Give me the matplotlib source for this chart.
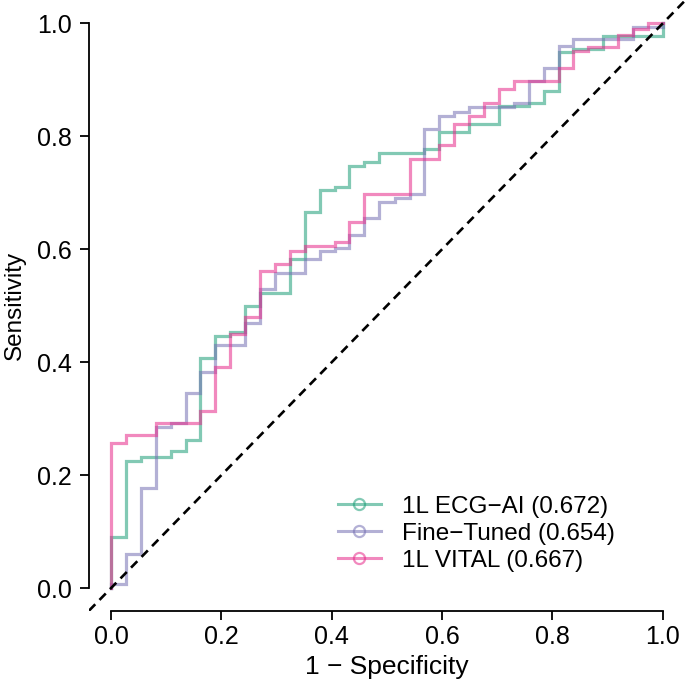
import matplotlib
matplotlib.use("Agg")
import matplotlib.pyplot as plt
from matplotlib.lines import Line2D

plt.rcParams["font.family"] = ["Liberation Sans", "DejaVu Sans"]

# ROC corner points (fpr, tpr), drawn as post-steps
ecg_fpr = [0.0, 0.0, 0.027, 0.054, 0.108, 0.135, 0.162, 0.189, 0.216, 0.243, 0.270,
           0.324, 0.351, 0.378, 0.405, 0.432, 0.459, 0.486, 0.568, 0.595, 0.649,
           0.703, 0.757, 0.784, 0.811, 0.838, 0.892, 1.0, 1.0]
ecg_tpr = [0.0, 0.091, 0.225, 0.232, 0.242, 0.262, 0.408, 0.447, 0.454, 0.500, 0.523,
           0.583, 0.665, 0.704, 0.710, 0.748, 0.755, 0.770, 0.777, 0.807, 0.821,
           0.853, 0.859, 0.880, 0.949, 0.955, 0.977, 0.977, 1.0]

ft_fpr = [0.0, 0.0, 0.027, 0.054, 0.081, 0.108, 0.135, 0.162, 0.189, 0.243, 0.270,
          0.297, 0.351, 0.378, 0.405, 0.432, 0.459, 0.486, 0.514, 0.541, 0.568,
          0.595, 0.622, 0.649, 0.730, 0.757, 0.784, 0.811, 0.838, 0.946, 1.0]
ft_tpr = [0.0, 0.008, 0.060, 0.178, 0.285, 0.293, 0.345, 0.382, 0.431, 0.470, 0.530,
          0.558, 0.582, 0.596, 0.603, 0.626, 0.655, 0.683, 0.690, 0.698, 0.813,
          0.836, 0.843, 0.851, 0.859, 0.898, 0.921, 0.960, 0.973, 0.993, 1.0]

vital_fpr = [0.0, 0.0, 0.027, 0.081, 0.162, 0.189, 0.216, 0.243, 0.270, 0.297, 0.324,
             0.351, 0.405, 0.432, 0.459, 0.541, 0.595, 0.622, 0.649, 0.676, 0.703,
             0.730, 0.811, 0.838, 0.865, 0.919, 0.946, 0.973, 1.0]
vital_tpr = [0.0, 0.256, 0.271, 0.292, 0.314, 0.391, 0.449, 0.480, 0.561, 0.574, 0.596,
             0.605, 0.612, 0.649, 0.697, 0.760, 0.785, 0.822, 0.836, 0.858, 0.883,
             0.897, 0.920, 0.951, 0.958, 0.980, 0.989, 1.0, 1.0]

labels = ["1L ECG\u2212AI (0.672)", "Fine\u2212Tuned (0.654)", "1L VITAL (0.667)"]
colors = ["#1b9e77", "#7570b3", "#e7298a"]
ticks = [0.0, 0.2, 0.4, 0.6, 0.8, 1.0]
tick_labels = ["0.0", "0.2", "0.4", "0.6", "0.8", "1.0"]

fig = plt.figure(figsize=(6.85, 6.85), dpi=100)
ax = fig.add_axes([0.1299, 0.1085, 0.870, 0.8905])

curves = [(ecg_fpr, ecg_tpr), (ft_fpr, ft_tpr), (vital_fpr, vital_tpr)]
for (fx, fy), c in zip(curves, colors):
    ax.plot(fx, fy, drawstyle="steps-post", color=c, alpha=0.55, lw=2.3,
            solid_joinstyle="miter")

# chance line
ax.axline((0, 0), (1, 1), color="black", lw=1.9, ls=(0, (3.4, 2.3)))

ax.set_xlim(-0.04, 1.04)
ax.set_ylim(-0.04, 1.04)
for side in ("top", "right"):
    ax.spines[side].set_visible(False)
for side in ("left", "bottom"):
    ax.spines[side].set_bounds(0, 1)
    ax.spines[side].set_linewidth(1.3)
ax.set_xticks(ticks)
ax.set_xticklabels(tick_labels)
ax.set_yticks(ticks)
ax.set_yticklabels(tick_labels)
ax.tick_params(axis="both", length=6.5, width=1.3, labelsize=18)
ax.tick_params(axis="y", pad=6)
ax.tick_params(axis="x", pad=4)
ax.set_xlabel("1 \u2212 Specificity", fontsize=19, labelpad=4)
ax.set_ylabel("Sensitivity", fontsize=17.5, labelpad=8)

handles = [Line2D([0], [0], color=c, alpha=0.55, lw=2.2, marker="o", ms=8,
                  mfc="none", mew=1.6) for c in colors]
ax.legend(handles, labels, loc="upper left", bbox_to_anchor=(0.493, 0.276),
          bbox_transform=fig.transFigure, frameon=False, fontsize=17.5,
          handlelength=1.77, handletextpad=0.86, labelspacing=0.2,
          borderpad=0, borderaxespad=0)

fig.savefig("out.png", dpi=100)
